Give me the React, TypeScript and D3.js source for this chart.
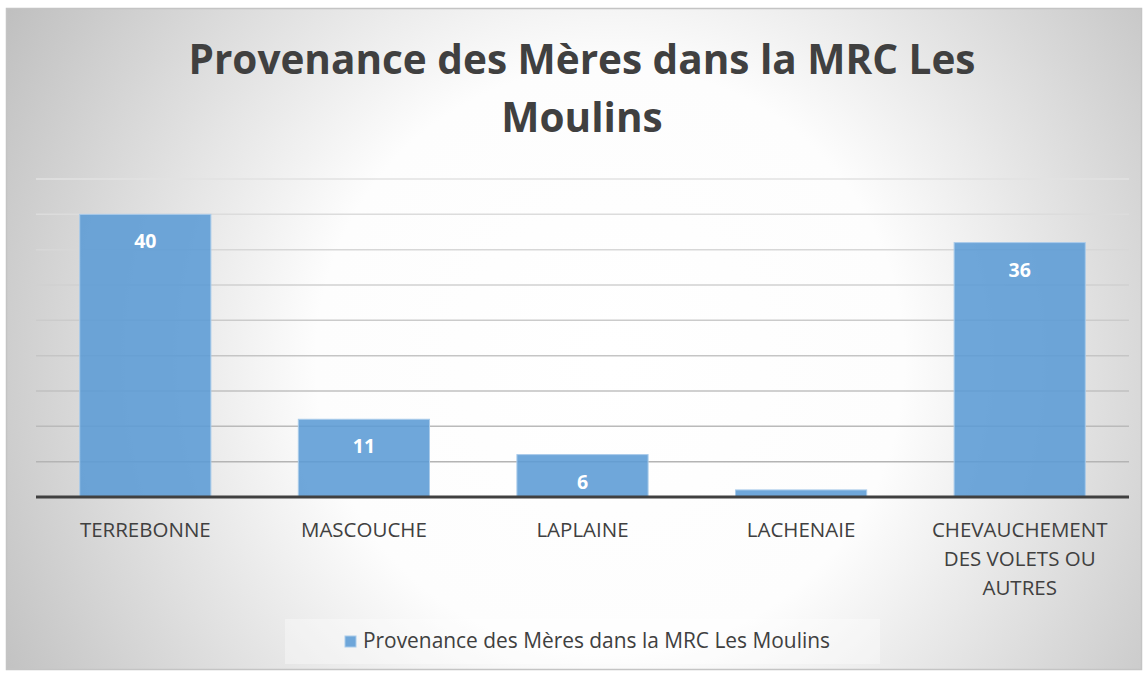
import { useRef, useEffect } from "react";
import * as d3 from "d3";

const categories = [
  ["TERREBONNE"],
  ["MASCOUCHE"],
  ["LAPLAINE"],
  ["LACHENAIE"],
  ["CHEVAUCHEMENT", "DES VOLETS OU", "AUTRES"],
];
const values = [40, 11, 6, 1, 36];
const dataLabels = ["40", "11", "6", "", "36"];
const gridTicks = [0, 5, 10, 15, 20, 25, 30, 35, 40, 45];
const titleLines = ["Provenance des Mères dans la MRC Les", "Moulins"];
const seriesName = "Provenance des Mères dans la MRC Les Moulins";

export default function App() {
  const ref = useRef<SVGSVGElement>(null);

  useEffect(() => {
    if (!ref.current) return;
    const W = 1146,
      H = 674;
    const svg = d3.select(ref.current);
    svg.selectAll("*").remove();
    svg.attr("width", W).attr("height", H);

    const defs = svg.append("defs");
    const grad = defs
      .append("radialGradient")
      .attr("id", "bg")
      .attr("gradientUnits", "userSpaceOnUse")
      .attr("cx", 610)
      .attr("cy", 360)
      .attr("r", 700);
    grad.append("stop").attr("offset", "0%").attr("stop-color", "#ffffff");
    grad.append("stop").attr("offset", "42%").attr("stop-color", "#fdfdfd");
    grad.append("stop").attr("offset", "100%").attr("stop-color", "#bfbfbf");

    svg
      .append("rect")
      .attr("x", 6.5)
      .attr("y", 8.5)
      .attr("width", 1135)
      .attr("height", 661)
      .attr("fill", "url(#bg)")
      .attr("stroke", "#c4c4c4")
      .attr("stroke-width", 1.5);

    const font = "'Open Sans', 'Liberation Sans', sans-serif";

    const x = d3
      .scaleBand<number>()
      .domain(d3.range(values.length))
      .range([36, 1129])
      .paddingInner(0.4)
      .paddingOuter(0.2);
    const y = d3.scaleLinear().domain([0, 45]).range([497, 179]);
    const gridColor = d3
      .scaleLinear<string>()
      .domain([5, 45])
      .range(["#b4b4b4", "#e2e2e2"]);

    // title
    svg
      .append("g")
      .selectAll("text")
      .data(titleLines)
      .join("text")
      .attr("x", 582)
      .attr("y", (_, i) => 74 + i * 58)
      .attr("text-anchor", "middle")
      .attr("font-family", font)
      .attr("font-size", 40.5)
      .attr("font-weight", 700)
      .attr("fill", "#404040")
      .text((d) => d);

    // gridlines
    svg
      .append("g")
      .selectAll("line")
      .data(gridTicks.slice(1))
      .join("line")
      .attr("x1", 36)
      .attr("x2", 1129)
      .attr("y1", (d) => y(d))
      .attr("y2", (d) => y(d))
      .attr("stroke", (d) => gridColor(d))
      .attr("stroke-width", 1.5);

    // bars
    const bars = svg.append("g");
    bars
      .selectAll("rect")
      .data(values)
      .join("rect")
      .attr("x", (_, i) => x(i)!)
      .attr("width", x.bandwidth())
      .attr("y", (d) => y(d))
      .attr("height", (d) => y(0) - y(d))
      .attr("fill", "#5b9bd5")
      .attr("fill-opacity", 0.88)
      .attr("stroke", "#a9cbea")
      .attr("stroke-width", 1);

    bars
      .selectAll("text")
      .data(values)
      .join("text")
      .attr("x", (_, i) => x(i)! + x.bandwidth() / 2)
      .attr("y", (d) => y(d) + 34)
      .attr("text-anchor", "middle")
      .attr("font-family", font)
      .attr("font-size", 19.5)
      .attr("font-weight", 700)
      .attr("fill", "#ffffff")
      .text((_, i) => dataLabels[i]);

    // axis line
    svg
      .append("line")
      .attr("x1", 36)
      .attr("x2", 1129)
      .attr("y1", y(0))
      .attr("y2", y(0))
      .attr("stroke", "#404040")
      .attr("stroke-width", 3);

    // category labels
    const cat = svg.append("g");
    categories.forEach((lines, i) => {
      cat
        .append("text")
        .attr("text-anchor", "middle")
        .attr("font-family", font)
        .attr("font-size", 20.5)
        .attr("fill", "#404040")
        .selectAll("tspan")
        .data(lines)
        .join("tspan")
        .attr("x", x(i)! + x.bandwidth() / 2)
        .attr("y", (_, j) => 537 + j * 29)
        .text((d) => d);
    });

    // legend
    svg
      .append("rect")
      .attr("x", 285)
      .attr("y", 619)
      .attr("width", 595)
      .attr("height", 45)
      .attr("fill", "#ffffff")
      .attr("fill-opacity", 0.35);
    svg
      .append("rect")
      .attr("x", 345)
      .attr("y", 636)
      .attr("width", 11)
      .attr("height", 11)
      .attr("fill", "#5b9bd5")
      .attr("fill-opacity", 0.88)
      .attr("stroke", "#a9cbea");
    svg
      .append("text")
      .attr("x", 363)
      .attr("y", 648)
      .attr("font-family", font)
      .attr("font-size", 20.9)
      .attr("fill", "#404040")
      .text(seriesName);
  }, []);

  return (
    <svg
      ref={ref}
      style={{ display: "block", position: "absolute", left: 0, top: 0 }}
    />
  );
}
